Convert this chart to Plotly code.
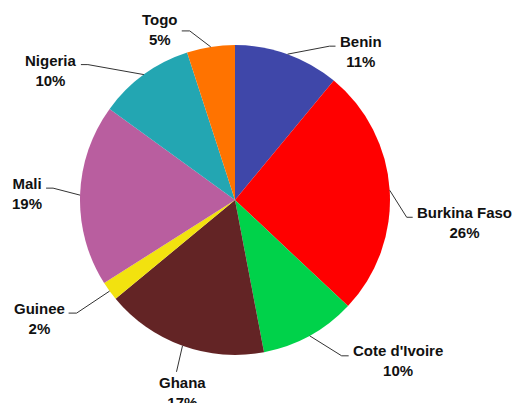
import math
import plotly.graph_objects as go

# ---- data ----
countries = ["Benin", "Burkina Faso", "Cote d'Ivoire", "Ghana", "Guinee", "Mali", "Nigeria", "Togo"]
shares = [11, 26, 10, 17, 2, 19, 10, 5]
colors = ["#3F47A9", "#FF0000", "#00D24A", "#632425", "#F2E20F", "#B95E9F", "#23A6B2", "#FF7300"]

# ---- layout / style ----
W, H = 516, 403
CX, CY, R = 235, 200, 155
# leader: (elbow dx, elbow dy from rim point, horizontal tail length, text y shift)
leaders = {
    "Benin": (42, -8, 6, 5),
    "Burkina Faso": (17, 27, 6, 5),
    "Cote d'Ivoire": (32, 20, 7, 5),
    "Ghana": (-6, 26, 0, 0),
    "Guinee": (-33, 22, -8, 5),
    "Mali": (-27, -7, -7, 5),
    "Nigeria": (-56, -10, -7, 6),
    "Togo": (-21, -16, -8, -1),
}

fig = go.Figure(go.Pie(
    labels=countries, values=shares, marker=dict(colors=colors, line=dict(width=0)),
    sort=False, direction="clockwise", rotation=0, textinfo="none",
    hoverinfo="label+percent", showlegend=False,
    domain=dict(x=[(CX - R) / W, (CX + R) / W], y=[1 - (CY + R) / H, 1 - (CY - R) / H]),
))

def px(x):
    return x / W

def py(y):
    return 1 - y / H

total = sum(shares)
cum = 0
font = dict(family="Liberation Sans, Arial, sans-serif", size=15, color="#111111")
for name, v in zip(countries, shares):
    mid = (cum + v / 2) / total * 2 * math.pi
    cum += v
    rx = CX + R * math.sin(mid)
    ry = CY - R * math.cos(mid)
    edx, edy, tail, tdy = leaders[name]
    ex, ey = rx + edx, ry + edy
    tx = ex + tail
    fig.add_shape(type="path",
                  path=f"M {px(rx)} {py(ry)} L {px(ex)} {py(ey)} L {px(tx)} {py(ey)}",
                  xref="paper", yref="paper", line=dict(color="#333333", width=1))
    text = f"<b>{name}<br>{round(v / total * 100)}%</b>"
    if tail > 0:
        fig.add_annotation(x=px(tx + 2), y=py(ey + tdy), xref="paper", yref="paper", text=text,
                           showarrow=False, xanchor="left", yanchor="middle", align="center", font=font)
    elif tail < 0:
        fig.add_annotation(x=px(tx - 2), y=py(ey + tdy), xref="paper", yref="paper", text=text,
                           showarrow=False, xanchor="right", yanchor="middle", align="center", font=font)
    else:
        fig.add_annotation(x=px(ex + 6), y=py(ey), xref="paper", yref="paper", text=text,
                           showarrow=False, xanchor="center", yanchor="top", align="center", font=font)

fig.update_layout(width=W, height=H, margin=dict(l=0, r=0, t=0, b=0),
                  paper_bgcolor="white", plot_bgcolor="white")
fig.write_html("out.html")
